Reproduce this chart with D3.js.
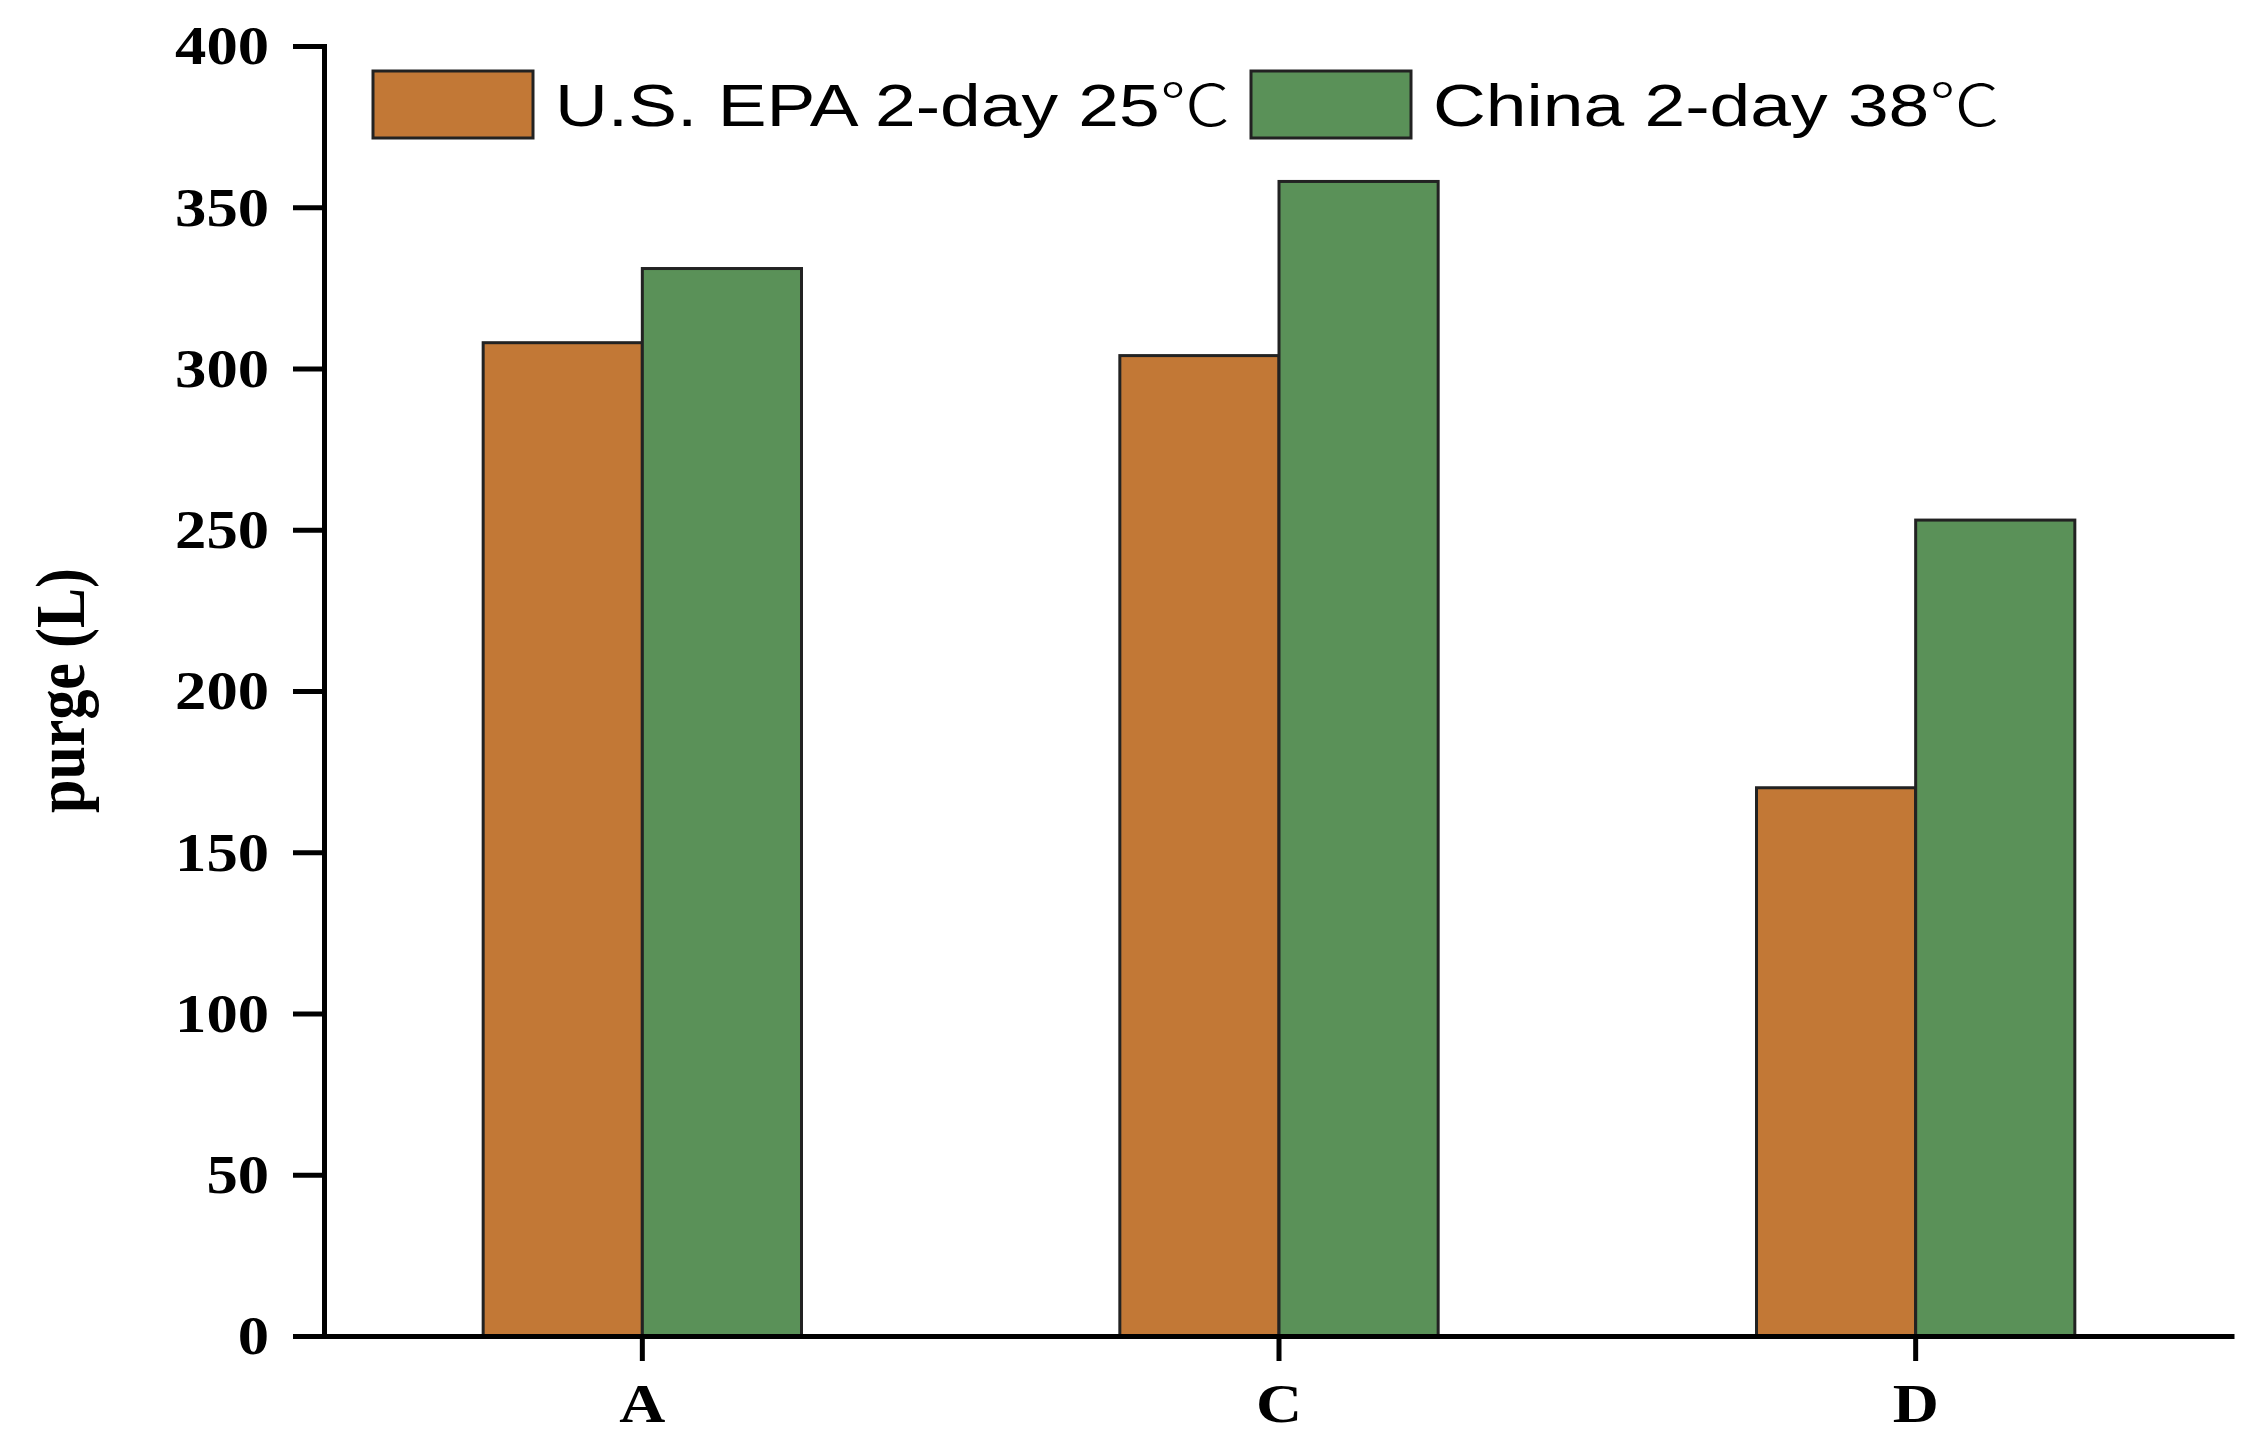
<!DOCTYPE html>
<html>
<head>
<meta charset="utf-8">
<script src="https://cdn.jsdelivr.net/npm/d3@7"></script>
<style>
  html, body { margin: 0; padding: 0; background: #fff; }
  svg { display: block; }
</style>
</head>
<body>
<svg id="chart" width="2256" height="1454"></svg>
<script>
// ---- data ----
const categories = ["A", "C", "D"];
const seriesNames = ["U.S. EPA 2-day 25", "China 2-day 38"];
const unitSymbol = "℃";
const epaValues = [308, 304, 170];
const chinaValues = [331, 358, 253];
const yTicks = [0, 50, 100, 150, 200, 250, 300, 350, 400];
const colors = ["#C27836", "#5A9158"];
const yTitle = "purge (L)";

// ---- layout ----
const plotLeft = 324, plotRight = 2234, plotTop = 46, plotBottom = 1336;
const sx = 1.16;   // horizontal stretch seen in the reference text
const sxLeg = 1.22;
const serif = "'Liberation Serif', 'Times New Roman', Times, serif";

const svg = d3.select("#chart");

const x = d3.scaleBand().domain(categories).range([plotLeft, plotRight])
  .paddingInner(0.5).paddingOuter(0.25);
const xs = d3.scaleBand().domain([0, 1]).range([0, x.bandwidth()]).padding(0);
const y = d3.scaleLinear().domain([0, 400]).range([plotBottom, plotTop]);

const data = categories.map((c, i) => ({ cat: c, vals: [epaValues[i], chinaValues[i]] }));

// bars
const g = svg.append("g");
data.forEach(d => {
  d.vals.forEach((v, j) => {
    g.append("rect")
      .attr("x", x(d.cat) + xs(j))
      .attr("y", y(v))
      .attr("width", xs.bandwidth())
      .attr("height", y(0) - y(v))
      .attr("fill", colors[j])
      .attr("stroke", "#222")
      .attr("stroke-width", 3);
  });
});

// y axis
const yAxis = svg.append("g")
  .attr("transform", `translate(${plotLeft},0)`)
  .call(d3.axisLeft(y).tickValues(yTicks).tickSize(31).tickSizeOuter(0).tickFormat(d3.format("d")));
yAxis.attr("font-family", null);
yAxis.select(".domain").attr("stroke", "#000").attr("stroke-width", 5).attr("stroke-linecap", "square");
yAxis.selectAll(".tick line").attr("stroke", "#000").attr("stroke-width", 5);
yAxis.selectAll(".tick text")
  .attr("x", -55 / sx)
  .attr("dy", "0.33em")
  .attr("transform", `scale(${sx},1)`)
  .attr("fill", "#000")
  .style("font-family", serif)
  .style("font-weight", "bold")
  .style("font-size", "54px")
  .attr("text-anchor", "end");

// x axis
const xAxis = svg.append("g")
  .attr("transform", `translate(0,${plotBottom})`)
  .call(d3.axisBottom(x).tickSize(25).tickSizeOuter(0));
xAxis.attr("font-family", null);
xAxis.select(".domain").attr("stroke", "#000").attr("stroke-width", 5);
xAxis.selectAll(".tick line").attr("stroke", "#000").attr("stroke-width", 5);
xAxis.selectAll(".tick text")
  .attr("y", 86)
  .attr("dy", 0)
  .attr("x", 0)
  .attr("transform", `scale(${sx},1)`)
  .attr("fill", "#000")
  .style("font-family", serif)
  .style("font-weight", "bold")
  .style("font-size", "55px");

// y title
svg.append("text")
  .attr("transform", `translate(84,${(568 + 813) / 2}) rotate(-90) scale(1,${sx})`)
  .attr("text-anchor", "middle")
  .attr("fill", "#000")
  .style("font-family", serif)
  .style("font-weight", "bold")
  .style("font-size", "60px")
  .text(yTitle);

// legend
const legendX = [373, 1251];
seriesNames.forEach((name, j) => {
  const lg = svg.append("g").attr("transform", `translate(${legendX[j]},71)`);
  lg.append("rect")
    .attr("x", 0).attr("y", 0)
    .attr("width", 160).attr("height", 67)
    .attr("fill", colors[j])
    .attr("stroke", "#222")
    .attr("stroke-width", 3);
  const t = lg.append("text")
    .attr("transform", `translate(182,55) scale(${sxLeg},1)`)
    .attr("fill", "#000")
    .style("font-family", "'Liberation Sans', Arial, sans-serif")
    .style("font-size", "60px");
  t.append("tspan").text(name);
  t.append("tspan")
    .style("font-family", "'Noto Sans CJK SC', 'Noto Sans CJK JP', sans-serif")
    .style("font-weight", "300")
    .style("font-size", "58px")
    .text(unitSymbol);
});
</script>
</body>
</html>
